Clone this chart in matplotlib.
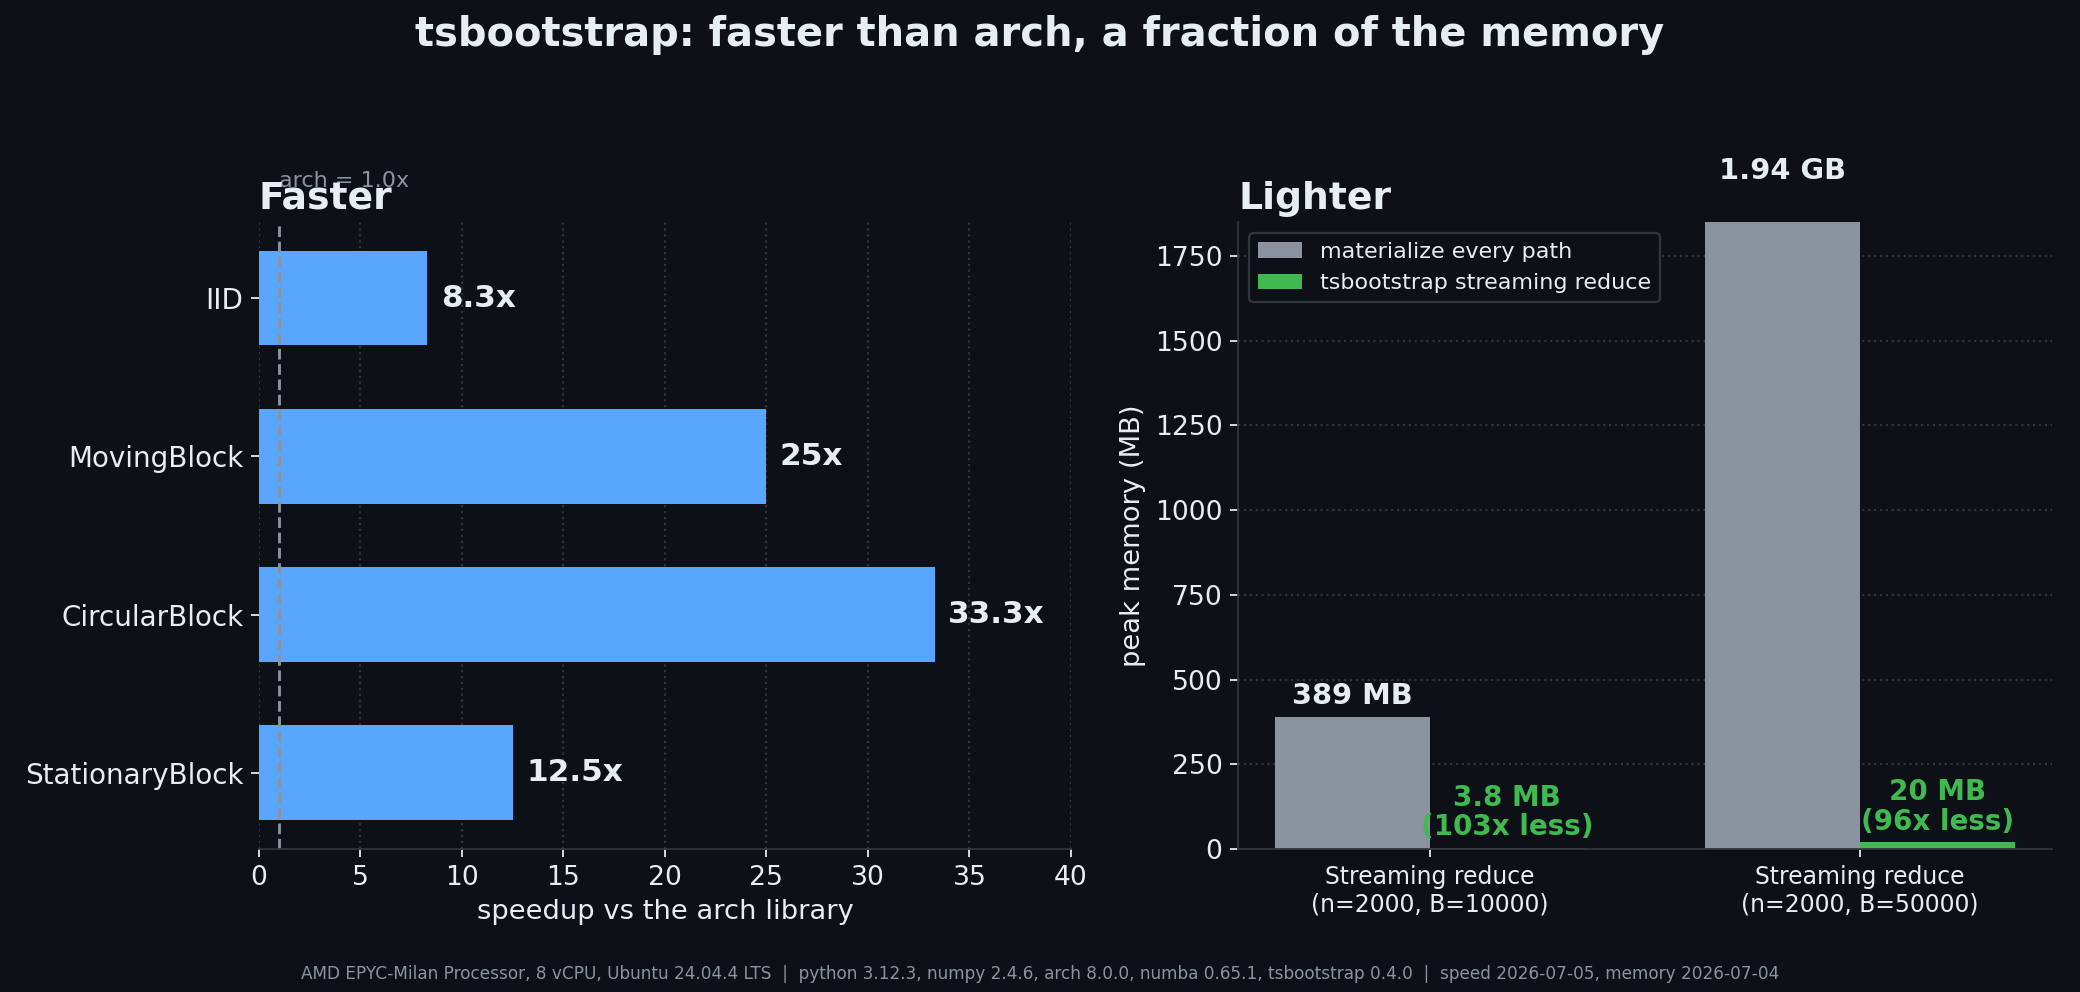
"""
tsbootstrap benchmark summary: speedup vs arch and peak memory.

Two panels on a dark background: horizontal speedup bars per bootstrap
method (left) and grouped peak-memory bars (right).

Run:  python plot.py
"""

import matplotlib
matplotlib.use("Agg")
import matplotlib.pyplot as plt
import numpy as np

# --------------------------------------------------------------------------- #
#  Data
# --------------------------------------------------------------------------- #
METHODS = ["IID", "MovingBlock", "CircularBlock", "StationaryBlock"]
SPEEDUP = [8.3, 25.0, 33.3, 12.5]
SPEEDUP_LABELS = ["8.3x", "25x", "33.3x", "12.5x"]
ARCH_BASELINE = 1.0

SCENARIOS = ["Streaming reduce\n(n=2000, B=10000)",
             "Streaming reduce\n(n=2000, B=50000)"]
MEM_MATERIALIZE = [389.0, 1940.0]          # MB
MEM_STREAMING = [3.8, 20.0]                # MB
MATERIALIZE_LABELS = ["389 MB", "1.94 GB"]
STREAMING_LABELS = ["3.8 MB\n(103x less)", "20 MB\n(96x less)"]

FOOTER = ("AMD EPYC-Milan Processor, 8 vCPU, Ubuntu 24.04.4 LTS  |  "
          "python 3.12.3, numpy 2.4.6, arch 8.0.0, numba 0.65.1, "
          "tsbootstrap 0.4.0  |  speed 2026-07-05, memory 2026-07-04")

# --------------------------------------------------------------------------- #
#  Style
# --------------------------------------------------------------------------- #
BG = "#0d1017"
FG = "#e6edf3"
MUTED = "#8b949e"
GRID = "#30363d"
BLUE = "#58a6ff"
GRAY = "#8b949e"
GREEN = "#3fb950"

plt.rcParams.update({
    "figure.facecolor": BG,
    "axes.facecolor": BG,
    "savefig.facecolor": BG,
    "text.color": FG,
    "axes.labelcolor": FG,
    "xtick.color": FG,
    "ytick.color": FG,
    "axes.edgecolor": GRID,
    "font.family": ["DejaVu Sans"],
})


def style_axes(ax):
    for side in ("top", "right"):
        ax.spines[side].set_visible(False)
    ax.spines["bottom"].set_color(GRID)
    ax.spines["left"].set_color(GRID)
    ax.tick_params(labelsize=12, colors=FG)
    ax.set_axisbelow(True)


def draw_speedup(ax):
    y = np.arange(len(METHODS))
    ax.barh(y, SPEEDUP, height=0.6, color=BLUE)
    for yi, val, lab in zip(y, SPEEDUP, SPEEDUP_LABELS):
        ax.annotate(lab, (val, yi), xytext=(6, 0), textcoords="offset points",
                    ha="left", va="center", fontsize=14, fontweight="bold",
                    color=FG)
    ax.set_yticks(y)
    ax.set_yticklabels(METHODS)
    ax.invert_yaxis()
    ax.set_xlim(0, 40)

    # arch reference line
    ax.axvline(ARCH_BASELINE, color=MUTED, linestyle="--", linewidth=1.3)
    ax.text(ARCH_BASELINE, 1.05, f"arch = {ARCH_BASELINE:.1f}x",
            transform=ax.get_xaxis_transform(), ha="left", va="bottom",
            fontsize=10, color=MUTED)

    style_axes(ax)
    ax.tick_params(axis="y", labelsize=12.5)
    ax.spines["left"].set_visible(False)
    ax.grid(axis="x", linestyle=":", color=GRID, linewidth=1.0)
    ax.set_xlabel("speedup vs the arch library", fontsize=12.3)
    ax.set_title("Faster", loc="left", fontsize=17, fontweight="bold",
                 color=FG)


def draw_memory(ax):
    x = np.arange(len(SCENARIOS))
    w = 0.36
    b1 = ax.bar(x - w / 2, MEM_MATERIALIZE, width=w, color=GRAY,
                label="materialize every path")
    b2 = ax.bar(x + w / 2, MEM_STREAMING, width=w, color=GREEN,
                label="tsbootstrap streaming reduce")
    for rect, lab in zip(b1, MATERIALIZE_LABELS):
        ax.annotate(lab, (rect.get_x() + rect.get_width() / 2, rect.get_height()),
                    xytext=(0, 3), textcoords="offset points",
                    ha="center", va="bottom", fontsize=13, fontweight="bold",
                    color=FG, annotation_clip=False)
    for rect, lab in zip(b2, STREAMING_LABELS):
        ax.annotate(lab, (rect.get_x() + rect.get_width() / 2, rect.get_height()),
                    xytext=(0, 3), textcoords="offset points",
                    ha="center", va="bottom", fontsize=12.5, fontweight="bold",
                    color=GREEN, linespacing=1.05, annotation_clip=False)

    ax.set_xticks(x)
    ax.set_xticklabels(SCENARIOS)
    ax.set_ylim(0, 1850)
    style_axes(ax)
    ax.tick_params(axis="x", labelsize=10.6)
    ax.grid(axis="y", linestyle=":", color=GRID, linewidth=1.0)
    ax.set_ylabel("peak memory (MB)", fontsize=12.3)
    ax.set_title("Lighter", loc="left", fontsize=17, fontweight="bold",
                 color=FG)
    leg = ax.legend(loc="upper left", fontsize=10, facecolor=BG,
                    edgecolor=GRID, labelcolor=FG, framealpha=1.0)
    leg.get_frame().set_linewidth(1.0)


def main():
    fig = plt.figure(figsize=(13, 6.2), dpi=160)
    ax1 = fig.add_axes([0.1245, 0.1442, 0.3904, 0.632])
    ax2 = fig.add_axes([0.5952, 0.1442, 0.3913, 0.632])

    draw_speedup(ax1)
    draw_memory(ax2)

    fig.suptitle("tsbootstrap: faster than arch, a fraction of the memory",
                 y=0.985, va="top", fontsize=18, fontweight="bold", color=FG)
    fig.text(0.5, 0.018, FOOTER, ha="center", va="center", fontsize=7.6,
             color=MUTED)

    fig.savefig("out.png", dpi=160)


if __name__ == "__main__":
    main()
